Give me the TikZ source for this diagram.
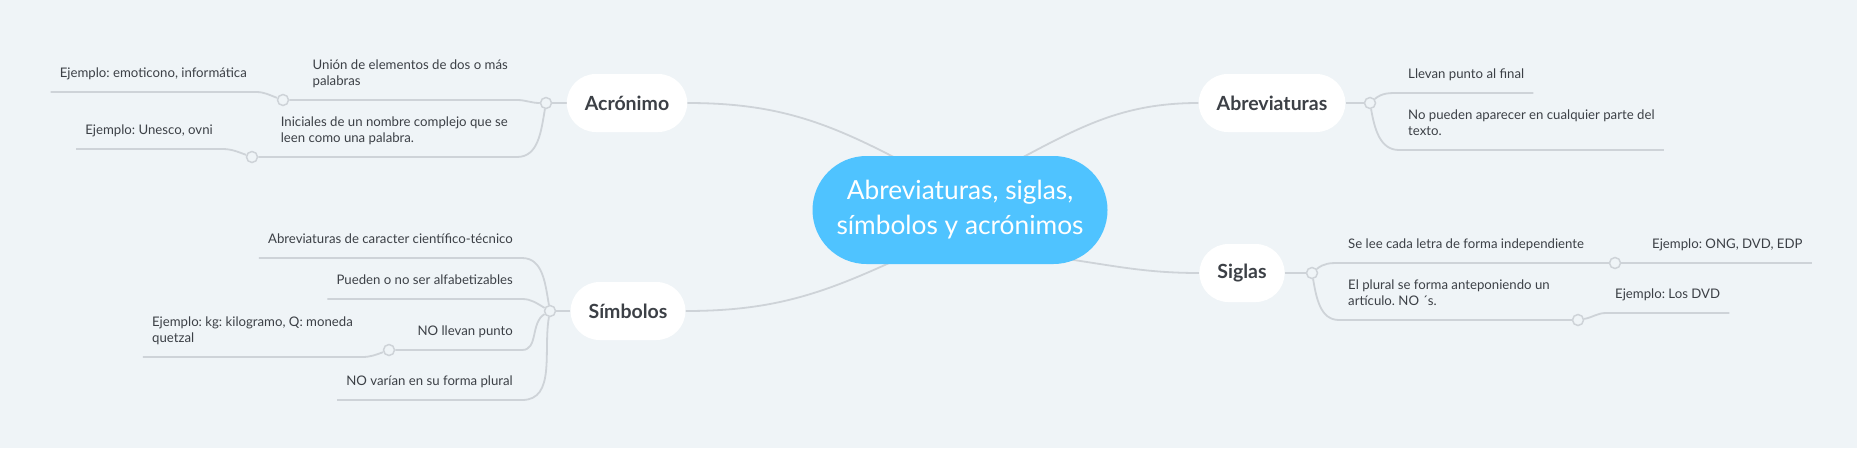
\documentclass[tikz,border=0pt]{standalone}
\usepackage{fontspec}
\setmainfont{Lato}
\frenchspacing
\usepackage{tikz}
\usetikzlibrary{positioning}
\definecolor{bgcol}{RGB}{239,244,247}
\definecolor{linecol}{RGB}{206,211,216}
\definecolor{maincol}{RGB}{79,195,255}
\definecolor{textcol}{RGB}{60,64,70}
\pgfdeclarelayer{back}
\pgfsetlayers{back,main}
\tikzstyle{mainnode}=[rectangle,rounded corners=54pt,fill=maincol,text=white,minimum width=295pt,minimum height=108pt,align=center,font=\fontsize{26.3}{35}\selectfont]
\tikzstyle{topic}=[rectangle,rounded corners=29pt,fill=white,minimum height=58pt,inner xsep=18pt,text=textcol,font=\bfseries\fontsize{19.5}{23}\selectfont]
\tikzstyle{leaf}=[inner xsep=9pt,inner ysep=14pt,text depth=0pt,align=left,text=textcol,font=\fontsize{13.2}{16.5}\selectfont]
\tikzstyle{joint}=[circle,draw=linecol,fill=bgcol,line width=1.5pt,minimum size=11pt,inner sep=0pt]
\tikzstyle{link}=[draw=linecol,line width=1.8pt]

\begin{document}
\begin{tikzpicture}[x=1pt,y=-1pt]
    \useasboundingbox (0,0) rectangle (1857,448);
    % First we draw the central topic and the four branches
    \node[mainnode] (main) at (960,210) {Abreviaturas, siglas,\\símbolos y acrónimos};
    \foreach \pos/\name/\txt in {{(627,103)/acro/Acrónimo}, {(1272,103)/abre/Abreviaturas}, {(1242,273)/sigl/Siglas}, {(628,311)/simb/Símbolos}}
        \node[topic] (\name) at \pos {\txt};

    % Then the small joints where the sub-topics hang
    \foreach \pos/\name in {{(546,103)/jacro}, {(1370,103)/jabre}, {(1312,273)/jsigl}, {(550,311)/jsimb}, {(283,100)/junion}, {(252,157)/jinic}, {(389,350)/jnollev}, {(1615,263)/jselee}, {(1578,320)/jplural}}
        \node[joint] (\name) at \pos {};

    % Where the branch links leave the central topic
    \foreach \pos/\name in {{(905,163)/macro}, {(1012,163)/mabre}, {(1060,258)/msigl}, {(900,258)/msimb}}
        \path \pos coordinate (\name);

    % Acrónimo
    \node[leaf,anchor=south east] (union) at (517,100) {Unión de elementos de dos o más\\palabras};
    \node[leaf,anchor=south east] (inic) at (517,157) {Iniciales de un nombre complejo que se\\leen como una palabra.};
    \node[leaf,anchor=south east] (exemot) at (256,92) {Ejemplo: emoticono, informática};
    \node[leaf,anchor=south east] (exunesco) at (222,149) {Ejemplo: Unesco, ovni};

    % Símbolos
    \node[leaf,anchor=south east] (abrc) at (522,258) {Abreviaturas de caracter científico-técnico};
    \node[leaf,anchor=south east] (pued) at (522,299) {Pueden o no ser alfabetizables};
    \node[leaf,anchor=south east] (nollev) at (522,350) {NO llevan punto};
    \node[leaf,anchor=south east] (novar) at (522,400) {NO varían en su forma plural};
    \node[leaf,anchor=south east] (exkg) at (362,357) {Ejemplo: kg: kilogramo, Q: moneda\\quetzal};

    % Abreviaturas
    \node[leaf,anchor=south west] (llev) at (1399,93) {Llevan punto al final};
    \node[leaf,anchor=south west] (nopue) at (1399,150) {No pueden aparecer en cualquier parte del\\texto.};

    % Siglas
    \node[leaf,anchor=south west] (selee) at (1339,263) {Se lee cada letra de forma independiente};
    \node[leaf,anchor=south west] (plural) at (1339,320) {El plural se forma anteponiendo un\\artículo. NO ´s.};
    \node[leaf,anchor=south west] (exong) at (1643,263) {Ejemplo: ONG, DVD, EDP};
    \node[leaf,anchor=south west] (exdvd) at (1606,313) {Ejemplo: Los DVD};

    \begin{pgfonlayer}{back}
    \fill[bgcol] (0,0) rectangle (1857,448);
    % Connect the branches with the central topic
    \draw[link] (macro) to[out=152,in=0] (acro.east);
    \draw[link] (mabre) to[out=28,in=180] (abre.west);
    \draw[link] (msigl) to[out=-8,in=180] (sigl.west);
    \draw[link] (msimb) to[out=205,in=0] (simb.east);
    \foreach \source/\dest in {acro/jacro, abre/jabre, sigl/jsigl, simb/jsimb}
        \path[link] (\source) -- (\dest);

    % Underlines of the sub-topics
    \draw[link] (junion) -- (union.south west) -- (union.south east) to[out=0,in=180] (jacro);
    \draw[link] (jinic) -- (inic.south west) -- (inic.south east) to[out=0,in=-100] (jacro);
    \draw[link] (exemot.south west) -- (exemot.south east) to[out=0,in=160] (junion);
    \draw[link] (exunesco.south west) -- (exunesco.south east) to[out=0,in=160] (jinic);

    \draw[link] (abrc.south west) -- (abrc.south east) to[out=0,in=100] (jsimb);
    \draw[link] (pued.south west) -- (pued.south east) to[out=0,in=150] (jsimb);
    \draw[link] (jnollev) -- (nollev.south west) -- (nollev.south east) to[out=0,in=-150] (jsimb);
    \draw[link] (novar.south west) -- (novar.south east) to[out=0,in=-100] (jsimb);
    \draw[link] (exkg.south west) -- (exkg.south east) to[out=0,in=200] (jnollev);

    \draw[link] (jabre) to[out=40,in=180] (llev.south west) -- (llev.south east);
    \draw[link] (jabre) to[out=-80,in=180] (nopue.south west) -- (nopue.south east);

    \draw[link] (jsigl) to[out=40,in=180] (selee.south west) -- (selee.south east) -- (jselee);
    \draw[link] (jselee) -- (exong.south west) -- (exong.south east);
    \draw[link] (jsigl) to[out=-80,in=180] (plural.south west) -- (plural.south east) -- (jplural);
    \draw[link] (jplural) to[out=10,in=180] (exdvd.south west) -- (exdvd.south east);
    \end{pgfonlayer}
\end{tikzpicture}
\end{document}
